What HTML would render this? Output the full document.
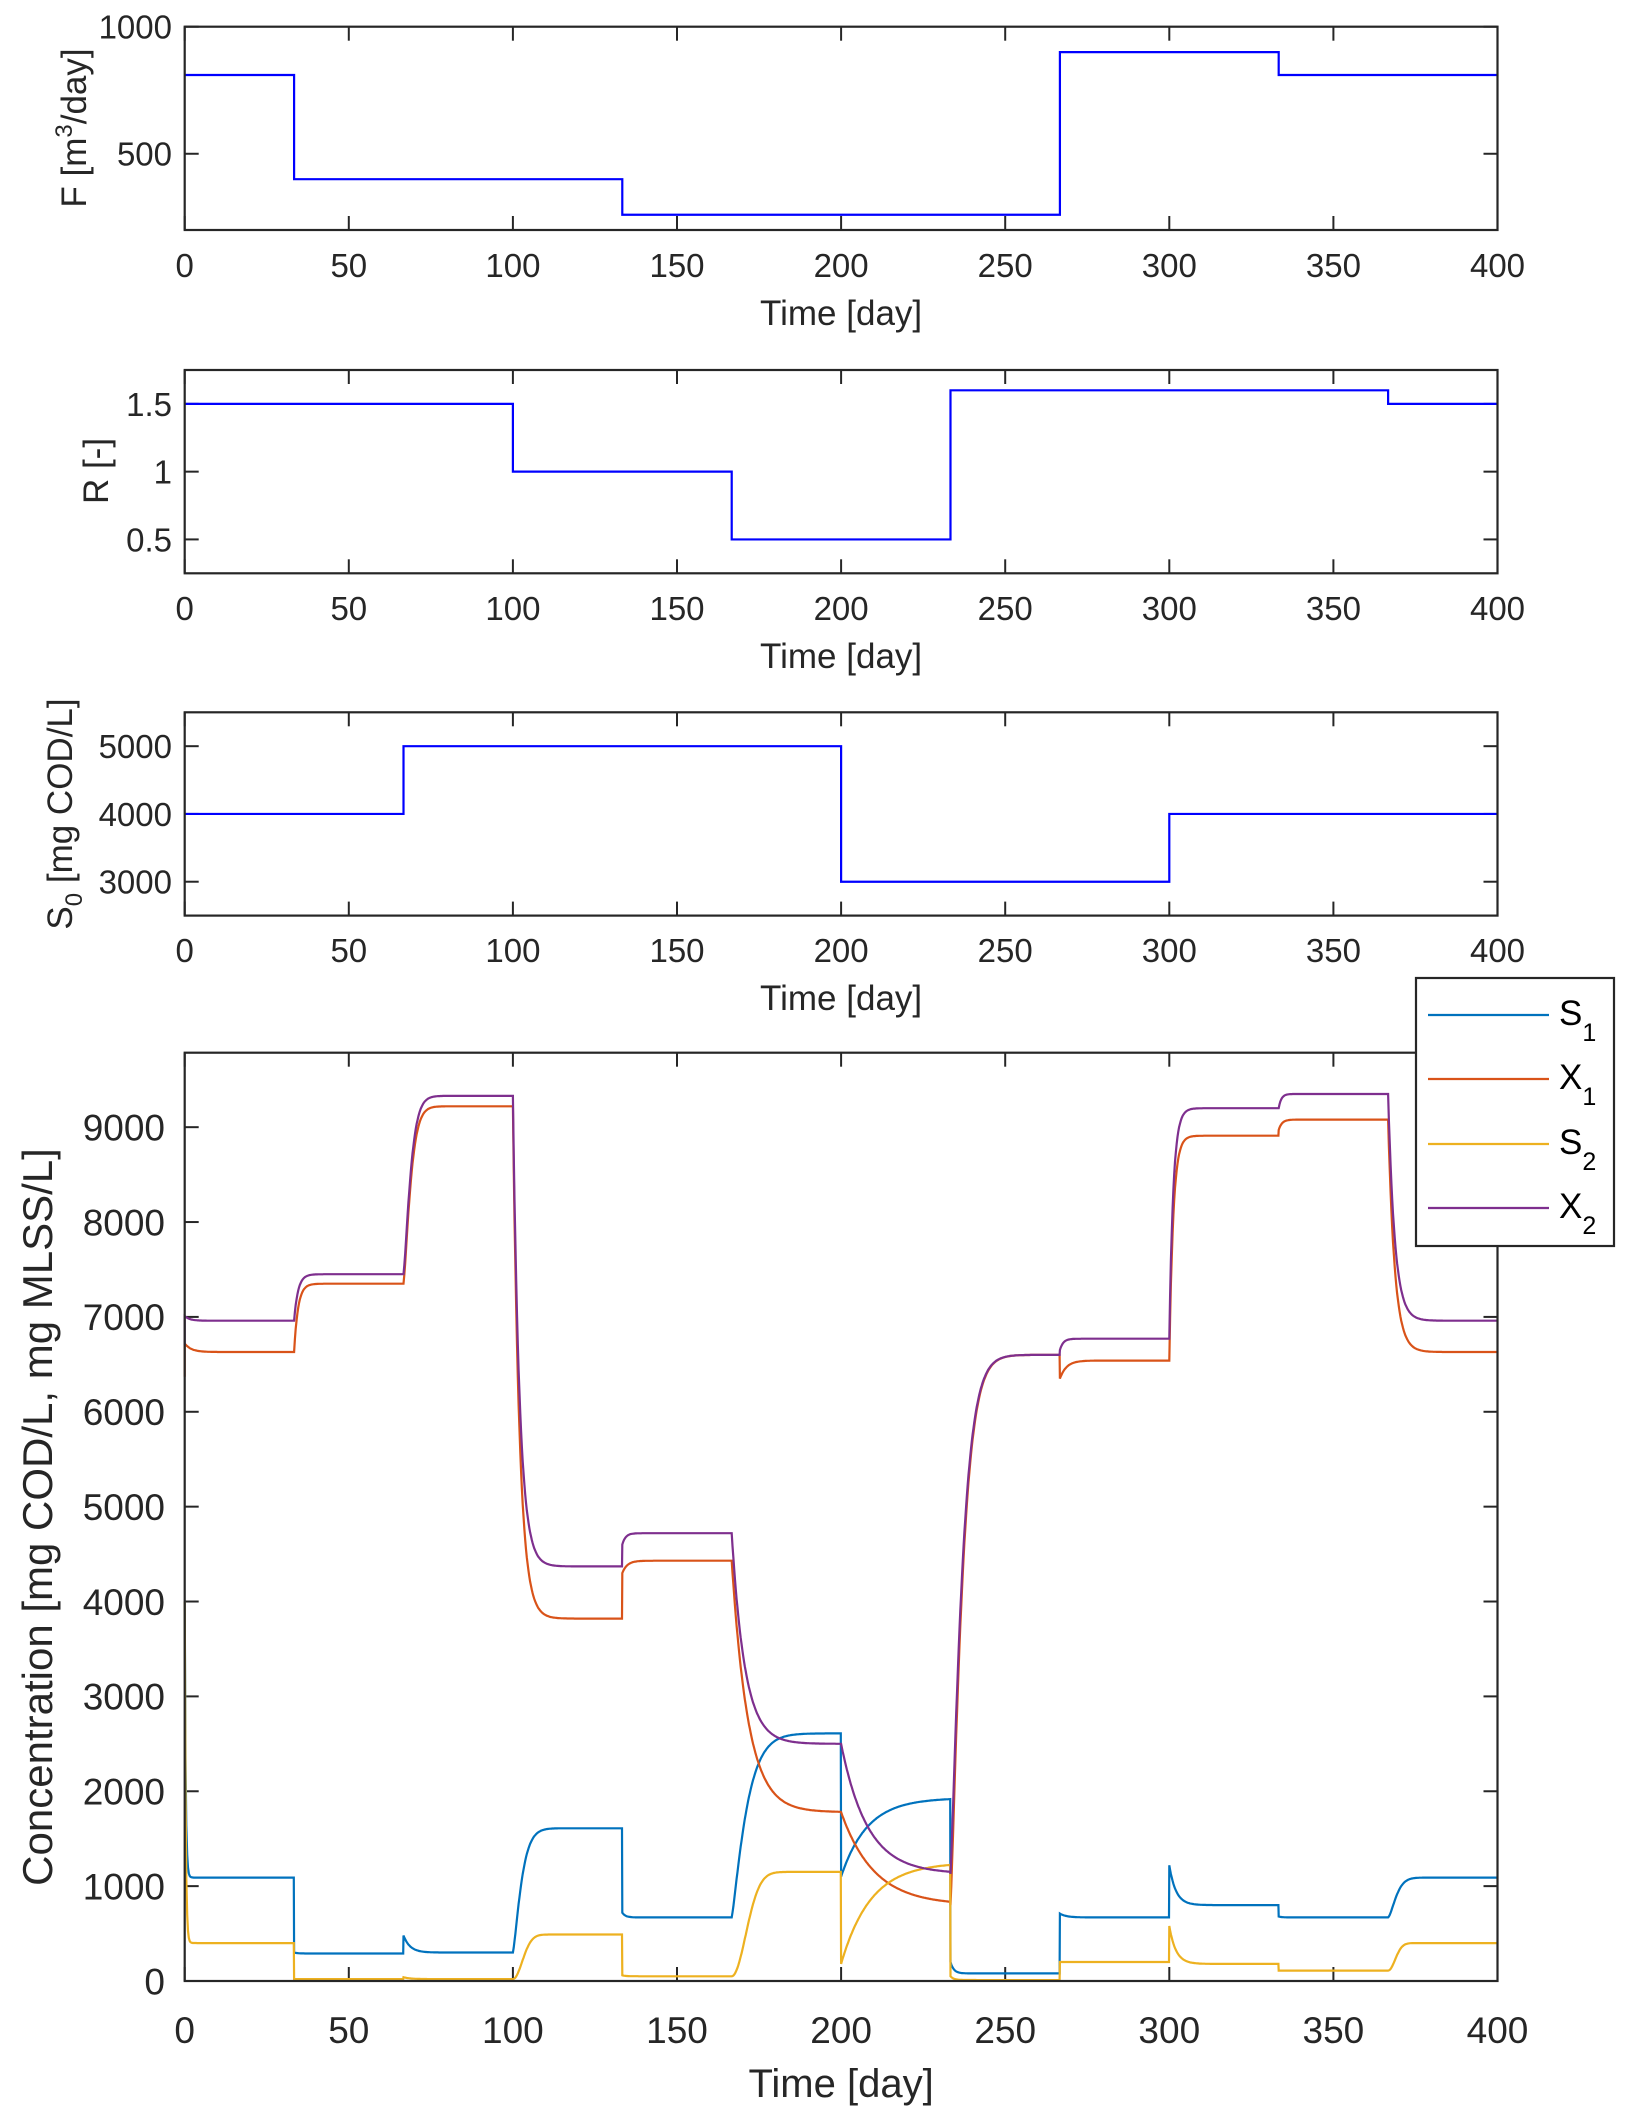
<!DOCTYPE html>
<html><head><meta charset="utf-8"><style>
html,body{margin:0;padding:0;background:#fff;}
svg{display:block;font-family:"Liberation Sans",sans-serif;}
</style></head><body>
<svg id="s" width="1628" height="2124" viewBox="0 0 1628 2124" xmlns="http://www.w3.org/2000/svg"></svg>
<script>
const svg=document.getElementById('s');
let out='';
const L=184.7,R=1497.5;
const X=t=>L+(R-L)*t/400;
function axes(top,bot,ymin,ymax,yt,ylabels,fs,lblx,xlY,titleY,xfs,tfs){
  const Y=v=>bot-(bot-top)*(v-ymin)/(ymax-ymin);
  let s='';
  for(let t=0;t<=400;t+=50){const x=X(t);
    s+=`<line x1="${x}" y1="${bot}" x2="${x}" y2="${bot-14}" stroke="#262626" stroke-width="2"/>`;
    s+=`<line x1="${x}" y1="${top}" x2="${x}" y2="${top+14}" stroke="#262626" stroke-width="2"/>`;
    s+=`<text x="${x}" y="${xlY}" font-size="${xfs}" text-anchor="middle" fill="#262626">${t}</text>`;}
  yt.forEach((v,i)=>{const y=Y(v);
    s+=`<line x1="${L}" y1="${y}" x2="${L+14}" y2="${y}" stroke="#262626" stroke-width="2"/>`;
    s+=`<line x1="${R}" y1="${y}" x2="${R-14}" y2="${y}" stroke="#262626" stroke-width="2"/>`;
    s+=`<text x="${lblx}" y="${y+fs*0.36}" font-size="${fs}" text-anchor="end" fill="#262626">${ylabels[i]}</text>`;});
  s+=`<text x="${(L+R)/2}" y="${titleY}" font-size="${tfs}" text-anchor="middle" fill="#262626">Time [day]</text>`;
  return {s,Y,box:`<rect x="${L}" y="${top}" width="${R-L}" height="${bot-top}" fill="none" stroke="#262626" stroke-width="2.2"/>`};
}
function step(Y,segs){let d='';segs.forEach((g,i)=>{const y=Y(g[2]);d+=(i?'L':'M')+X(g[0])+' '+y+' L'+X(g[1])+' '+y;});
  return `<path d="${d}" fill="none" stroke="#0000FF" stroke-width="2.2"/>`;}
const FS=33, TF=35;
// Plot 1
let a=axes(26.7,230,200,1000,[500,1000],['500','1000'],FS,172,277,325,FS,TF);
out+=a.s+step(a.Y,[[0,33.33,810],[33.33,133.33,400],[133.33,266.67,260],[266.67,333.33,900],[333.33,400,810]])+a.box;
out+=`<text transform="translate(86,128) rotate(-90)" font-size="${TF}" text-anchor="middle" fill="#262626">F [m<tspan font-size="24" dy="-14">3</tspan><tspan dy="14">/day]</tspan></text>`;
// Plot 2
a=axes(370,573.3,0.25,1.75,[0.5,1,1.5],['0.5','1','1.5'],FS,172,620,668,FS,TF);
out+=a.s+step(a.Y,[[0,100,1.5],[100,166.67,1],[166.67,233.33,0.5],[233.33,366.67,1.6],[366.67,400,1.5]])+a.box;
out+=`<text transform="translate(108,471) rotate(-90)" font-size="${TF}" text-anchor="middle" fill="#262626">R [-]</text>`;
// Plot 3
a=axes(712.3,915.6,2500,5500,[3000,4000,5000],['3000','4000','5000'],FS,172,962,1010,FS,TF);
out+=a.s+step(a.Y,[[0,66.67,4000],[66.67,200,5000],[200,300,3000],[300,400,4000]])+a.box;
out+=`<text transform="translate(72,814) rotate(-90)" font-size="${TF}" text-anchor="middle" fill="#262626">S<tspan font-size="24" dy="10">0</tspan><tspan dy="-10"> [mg COD/L]</tspan></text>`;
// Plot 4
const yt=[0,1000,2000,3000,4000,5000,6000,7000,8000,9000];
a=axes(1052.7,1981,0,9785,yt,yt.map(String),37,165,2043,2097,37,40);
function series(segs,start){
  let pts=[];
  segs.forEach((g,i)=>{const t0=g[0],t1=i+1<segs.length?segs[i+1][0]:400;const [_,f,to,tau,p]=g;const pp=p||1;
    for(let t=t0;t<=t1+1e-9;t+=0.25){const u=(t-t0)/tau;const v=to+(f-to)*Math.exp(-Math.pow(u,pp));pts.push([t,v]);}
  });
  if(start!==undefined)pts.unshift([0,start]);
  return pts.map((q,i)=>(i?'L':'M')+X(q[0]).toFixed(1)+' '+a.Y(q[1]).toFixed(1)).join(' ');
}
const S1=series([[0,4000,1090,0.3],[33.33,300,290,1],[66.67,480,300,2],[100,300,1610,3,1.3],[133.33,720,670,1],[166.67,670,2610,5,1.2],[200,1100,1930,8],[233.33,200,80,1],[266.67,710,670,2],[300,1220,800,2],[333.33,680,670,1],[366.67,670,1090,3,1.5]]);
const X1=series([[0,6720,6630,2],[33.33,6630,7350,1.2],[66.67,7350,9220,2.5,1.3],[100,9220,3820,2],[133.33,4300,4430,1.5],[166.67,4430,1780,5],[200,1780,800,10],[233.33,800,6600,4,1.2],[266.67,6350,6540,2],[300,6540,8910,1.2],[333.33,8970,9080,1],[366.67,9080,6630,2]],6370);
const S2=series([[0,4000,400,0.3],[33.33,20,20,1],[66.67,40,20,2],[100,20,490,4,2],[133.33,60,50,1],[166.67,50,1150,6,2],[200,180,1250,9],[233.33,50,10,1],[266.67,200,200,1],[300,580,180,2],[333.33,110,110,1],[366.67,110,400,3,2]]);
const X2=series([[0,7010,6960,1.5],[33.33,6960,7450,1.2],[66.67,7450,9330,2.5,1.3],[100,9330,4370,2],[133.33,4600,4720,1],[166.67,4720,2500,4],[200,2500,1130,8],[233.33,1130,6600,4,1.2],[266.67,6650,6770,1],[300,6770,9200,1.2],[333.33,9200,9350,0.8],[366.67,9350,6960,2]],6700);
out+=a.s;
[[S1,'#0072BD'],[X1,'#D95319'],[S2,'#EDB120'],[X2,'#7E2F8E']].forEach(q=>out+=`<path d="${q[0]}" fill="none" stroke="${q[1]}" stroke-width="2.2"/>`);
out+=a.box;
out+=`<text transform="translate(52,1517) rotate(-90)" font-size="42" text-anchor="middle" fill="#262626">Concentration [mg COD/L, mg MLSS/L]</text>`;
// Legend
out+=`<rect x="1416" y="978" width="198" height="268" fill="#fff" stroke="#262626" stroke-width="2.2"/>`;
[['S','1','#0072BD',1015],['X','1','#D95319',1079],['S','2','#EDB120',1144],['X','2','#7E2F8E',1208]].forEach(q=>{
  out+=`<line x1="1428" y1="${q[3]}" x2="1549" y2="${q[3]}" stroke="${q[2]}" stroke-width="2.2"/>`;
  out+=`<text x="1559" y="${q[3]+10}" font-size="35" fill="#000">${q[0]}<tspan font-size="25" dy="16">${q[1]}</tspan></text>`;
});
svg.innerHTML=out;
</script>
</body></html>
